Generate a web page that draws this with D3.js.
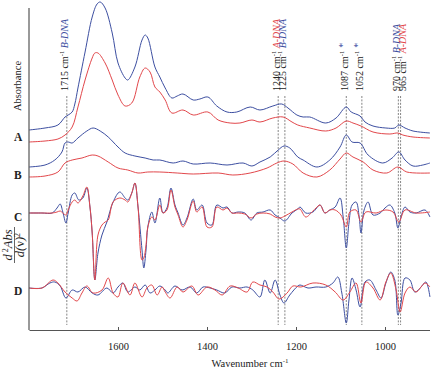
<!DOCTYPE html>
<html>
<head>
<meta charset="utf-8">
<script src="https://cdn.jsdelivr.net/npm/d3@7"></script>
<style>
  body { margin: 0; background: #fff; }
  svg { display: block; }
  text { font-family: "Liberation Serif", "DejaVu Serif", serif; }
</style>
</head>
<body>
<div id="chart"></div>
<script>
// [wavenumber cm-1, stacked intensity a.u.]
const absBlueA = [[1800,200],[1764,202],[1735,205],[1719,213],[1712,215],[1703,218],[1697,226],[1690,242],[1674,278],[1658,313],[1647,326],[1640,328],[1629,322],[1613,297],[1600,267],[1584,252],[1578,250],[1562,263],[1546,290],[1539,295],[1533,292],[1517,263],[1506,253],[1494,242],[1479,232],[1467,234],[1454,236],[1431,230],[1416,231],[1398,233],[1378,224],[1355,218],[1333,218],[1303,223],[1281,220],[1252,224],[1232,226],[1218,222],[1198,215],[1184,213],[1169,213],[1133,207],[1110,212],[1087,223],[1076,218],[1056,214],[1045,208],[1027,204],[998,202],[978,202],[969,205],[955,202],[937,199],[899,197]];
const absRedA = [[1800,188],[1764,189],[1735,191],[1719,195],[1703,203],[1690,223],[1674,250],[1658,272],[1652,277],[1645,277],[1629,267],[1613,250],[1600,235],[1584,224],[1569,227],[1551,253],[1539,262],[1528,258],[1517,243],[1506,238],[1494,230],[1479,217],[1454,220],[1431,215],[1398,218],[1375,210],[1348,207],[1326,207],[1299,210],[1281,208],[1252,212],[1229,213],[1209,208],[1196,205],[1169,202],[1133,199],[1110,202],[1087,209],[1072,207],[1054,204],[1027,198],[989,196],[971,197],[960,195],[937,193],[899,192]];
const absBlueB = [[1800,163],[1764,165],[1742,170],[1726,178],[1719,187],[1712,188],[1703,187],[1690,192],[1670,199],[1656,202],[1640,199],[1622,193],[1600,183],[1584,177],[1562,174],[1539,172],[1521,170],[1506,170],[1476,167],[1454,169],[1431,166],[1393,167],[1355,165],[1319,167],[1299,164],[1281,168],[1258,173],[1240,180],[1227,184],[1214,182],[1196,173],[1184,170],[1153,163],[1124,170],[1101,183],[1087,195],[1074,188],[1056,187],[1038,175],[1005,167],[984,172],[969,178],[955,170],[937,164],[915,165],[899,167]];
const absRedB = [[1800,153],[1764,154],[1735,158],[1719,167],[1703,170],[1681,172],[1658,175],[1645,174],[1622,168],[1600,162],[1578,160],[1555,157],[1533,158],[1506,158],[1467,157],[1431,156],[1375,157],[1342,155],[1303,157],[1265,162],[1243,167],[1227,169],[1207,166],[1184,157],[1153,153],[1124,160],[1101,171],[1087,177],[1072,173],[1049,168],[1027,160],[996,157],[971,163],[951,158],[899,157]];
const d2BlueC = [[1800,117],[1771,117],[1748,117],[1737,122],[1730,126],[1724,118],[1717,107],[1712,117],[1703,135],[1697,137],[1688,130],[1679,132],[1670,142],[1663,123],[1658,97],[1652,50],[1645,77],[1636,95],[1625,108],[1611,128],[1596,138],[1584,132],[1578,130],[1569,137],[1562,147],[1555,123],[1546,80],[1542,62],[1537,80],[1533,103],[1524,118],[1517,107],[1506,132],[1499,117],[1490,122],[1481,142],[1472,125],[1465,117],[1454,105],[1445,112],[1431,131],[1423,120],[1411,125],[1400,107],[1389,105],[1378,125],[1364,122],[1355,123],[1344,117],[1330,118],[1315,117],[1301,110],[1288,117],[1274,118],[1258,120],[1247,115],[1236,112],[1225,109],[1209,117],[1196,121],[1191,123],[1178,117],[1162,118],[1146,125],[1135,117],[1124,120],[1112,123],[1101,132],[1094,113],[1087,82],[1081,107],[1074,125],[1065,128],[1058,113],[1054,97],[1047,120],[1038,128],[1027,115],[1011,117],[1000,122],[989,125],[978,117],[971,102],[964,113],[955,123],[944,118],[930,117],[910,120],[899,113]];
const d2RedC = [[1800,117],[1771,117],[1748,117],[1737,118],[1730,119],[1724,117],[1717,115],[1712,120],[1703,128],[1697,130],[1690,127],[1679,134],[1670,143],[1663,123],[1658,97],[1652,50],[1645,95],[1636,105],[1629,108],[1622,110],[1611,128],[1596,132],[1584,130],[1578,128],[1569,137],[1562,147],[1555,123],[1546,70],[1542,72],[1537,85],[1533,103],[1524,113],[1517,110],[1506,125],[1499,117],[1490,120],[1481,140],[1472,123],[1465,115],[1454,103],[1445,110],[1431,129],[1423,118],[1411,123],[1400,103],[1389,103],[1378,123],[1364,120],[1355,122],[1344,117],[1330,117],[1315,116],[1301,112],[1288,116],[1274,117],[1258,116],[1247,113],[1236,112],[1225,114],[1209,118],[1196,121],[1191,121],[1178,113],[1162,119],[1155,122],[1146,125],[1135,117],[1124,120],[1112,120],[1099,115],[1087,103],[1079,118],[1065,120],[1054,108],[1043,118],[1020,117],[1000,120],[982,118],[969,108],[955,120],[930,117],[899,118]];
const d2BlueD = [[1800,42],[1771,42],[1753,47],[1742,48],[1730,44],[1717,32],[1703,40],[1690,38],[1674,43],[1658,37],[1645,35],[1625,42],[1611,37],[1600,43],[1589,47],[1578,38],[1562,43],[1551,40],[1539,45],[1528,37],[1517,40],[1506,44],[1494,40],[1488,37],[1472,44],[1456,40],[1438,43],[1423,37],[1409,43],[1393,42],[1378,40],[1360,37],[1344,43],[1326,42],[1310,43],[1297,40],[1281,33],[1270,50],[1258,37],[1247,50],[1236,35],[1227,27],[1214,35],[1196,44],[1191,45],[1173,42],[1155,43],[1133,43],[1117,47],[1106,53],[1097,37],[1087,7],[1081,30],[1074,52],[1065,40],[1056,23],[1045,48],[1034,50],[1020,40],[1009,32],[998,47],[987,58],[978,50],[971,15],[964,27],[955,52],[944,50],[933,38],[919,43],[908,48],[899,33]];
const d2RedD = [[1800,42],[1771,42],[1746,50],[1735,47],[1719,38],[1703,32],[1692,29],[1681,37],[1670,44],[1656,37],[1636,40],[1622,52],[1611,37],[1600,33],[1589,47],[1573,35],[1562,47],[1546,33],[1535,42],[1524,45],[1512,35],[1501,43],[1494,38],[1483,32],[1467,43],[1454,38],[1434,44],[1420,35],[1400,43],[1382,40],[1366,35],[1348,44],[1330,42],[1310,38],[1297,48],[1281,45],[1265,43],[1252,38],[1238,31],[1220,37],[1207,44],[1189,43],[1162,47],[1133,45],[1112,38],[1094,30],[1079,38],[1065,47],[1054,27],[1043,48],[1027,42],[1011,30],[998,48],[987,57],[975,40],[966,18],[955,37],[944,43],[930,38],[910,47],[899,43]];

const xTicks = [1600, 1400, 1200, 1000];
const panelLabels = [["A", 193], ["B", 155], ["C", 113], ["D", 39]];
// wavenumber, label number, trailing tag, tag colour
const bands = [
  [1715, "1715", "B-DNA", "blue"],
  [1240, "1240", "A-DNA", "red"],
  [1225, "1225", "B-DNA", "blue"],
  [1087, "1087", "*", "blue"],
  [1052, "1052", "*", "blue"],
  [970, "970", "B-DNA", "blue"],
  [965, "965", "A-DNA", "red"]
];

const colors = { blue: "#3d4fa1", red: "#e2474b" };
const W = 433, H = 370;

const svg = d3.select("#chart").append("svg").attr("width", W).attr("height", H);

const x = d3.scaleLinear().domain([1800, 900]).range([29, 429.5]);
const y = d3.scaleLinear().domain([0, 322]).range([330, 8]);

const line = d3.line()
  .x(d => x(d[0]))
  .y(d => y(d[1]))
  .curve(d3.curveCatmullRom.alpha(0.5));

// dashed band markers
const bandG = svg.append("g");
bandG.selectAll("line").data(bands).join("line")
  .attr("x1", d => x(d[0])).attr("x2", d => x(d[0]))
  .attr("y1", y(234)).attr("y2", y(5))
  .attr("stroke", "#666").attr("stroke-width", 0.8)
  .attr("stroke-dasharray", "2,1.4");

// series: red under blue for the spectra, blue under red for derivatives
const series = [
  [absRedA, "red"], [absBlueA, "blue"],
  [absRedB, "red"], [absBlueB, "blue"],
  [d2BlueC, "blue"], [d2RedC, "red"],
  [d2BlueD, "blue"], [d2RedD, "red"]
];
svg.append("g").selectAll("path").data(series).join("path")
  .attr("d", d => line(d[0]))
  .attr("fill", "none")
  .attr("stroke", d => colors[d[1]])
  .attr("stroke-width", 1);

// axes
svg.append("line").attr("x1", x(1800)).attr("x2", x(1800))
  .attr("y1", y(322)).attr("y2", y(0)).attr("stroke", "#555").attr("stroke-width", 1.2);
const xAxis = d3.axisBottom(x).tickValues(xTicks).tickSizeInner(-3).tickSizeOuter(0)
  .tickPadding(13).tickFormat(d3.format("d"));
const xg = svg.append("g").attr("transform", `translate(0,${y(0)})`).call(xAxis);
xg.select(".domain").attr("stroke", "#555").attr("stroke-width", 1.2);
xg.selectAll(".tick line").attr("stroke", "#555");
xg.selectAll("text").attr("font-family", "Liberation Serif").attr("font-size", 10.5).attr("fill", "#222");

svg.append("text").attr("x", 250).attr("y", 367).attr("text-anchor", "middle")
  .attr("font-size", 10.5).attr("fill", "#222")
  .call(t => {
    t.append("tspan").text("Wavenumber cm");
    t.append("tspan").attr("dy", -4).attr("font-size", 7).text("-1");
  });

// y labels
svg.append("text").attr("transform", "translate(20.5,86) rotate(-90)")
  .attr("text-anchor", "middle").attr("font-size", 10.5).attr("fill", "#222").text("Absorbance");

const frac = svg.append("g").attr("transform", "translate(0,245)");
frac.append("text").attr("transform", "translate(12,0) rotate(-90)")
  .attr("text-anchor", "middle").attr("font-size", 12.5).attr("font-style", "italic").attr("fill", "#222")
  .call(t => {
    t.append("tspan").text("d");
    t.append("tspan").attr("dy", -4.5).attr("font-size", 8).attr("font-style", "normal").text(" 2");
    t.append("tspan").attr("dy", 4.5).text("Abs");
  });
frac.append("line").attr("x1", 14.5).attr("x2", 14.5).attr("y1", -18).attr("y2", 18)
  .attr("stroke", "#222").attr("stroke-width", 0.7);
frac.append("text").attr("transform", "translate(24,0) rotate(-90)")
  .attr("text-anchor", "middle").attr("font-size", 12.5).attr("font-style", "italic").attr("fill", "#222")
  .call(t => {
    t.append("tspan").text("d(");
    t.append("tspan").attr("font-style", "normal").text("ν");
    t.append("tspan").text(")");
    t.append("tspan").attr("dy", -4.5).attr("font-size", 8).attr("font-style", "normal").text("2");
  });

svg.append("g").selectAll("text").data(panelLabels).join("text")
  .attr("x", 14).attr("y", d => y(d[1]) + 4)
  .attr("font-size", 11.5).attr("font-weight", "bold").attr("fill", "#222")
  .text(d => d[0]);

// band labels, rotated, nudged apart when too close
let prevX = -100;
const labelPos = bands.map(b => {
  const lx = Math.max(x(b[0]) + 1.5, prevX + 6.5);
  prevX = lx;
  return lx;
});
const labG = svg.append("g");
bands.forEach((b, i) => {
  const t = labG.append("text")
    .attr("transform", `translate(${labelPos[i]},91) rotate(-90)`)
    .attr("font-size", 10).attr("fill", "#222");
  t.append("tspan").text(b[1] + " cm");
  t.append("tspan").attr("dy", -4).attr("font-size", 6.5).text("-1");
  t.append("tspan").attr("dy", 4).text(" ");
  t.append("tspan").attr("fill", colors[b[3]]).attr("font-style", "italic")
    .attr("dy", b[2] === "*" ? -2 : 0)
    .text(b[2]);
});
</script>
</body>
</html>
